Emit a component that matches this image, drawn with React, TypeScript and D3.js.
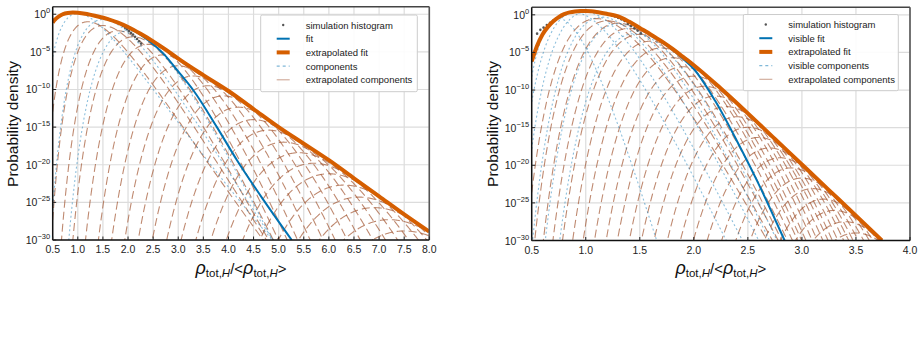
import React, { useEffect, useRef } from "react";
import * as d3 from "d3";

const FONT = "'Liberation Sans', Arial, Helvetica, sans-serif";

// ---- left panel ----
const leftXTicks = [0.5, 1.0, 1.5, 2.0, 2.5, 3.0, 3.5, 4.0, 4.5, 5.0, 5.5, 6.0, 6.5, 7.0, 7.5, 8.0];
const yExponents = [0, -5, -10, -15, -20, -25, -30];

// extrapolated fit (x, log10 density)
const leftFitX = [0.5, 0.55, 0.6, 0.7, 0.8, 0.9, 1.0, 1.2, 1.4, 1.6, 1.8, 2.0, 2.25, 2.5, 2.75, 3.0, 3.5, 4.0, 4.5, 5.0, 5.5, 6.0, 6.5, 7.0, 7.5, 8.0];
const leftFitLog = [-1.1, -0.7, -0.4, 0.0, 0.17, 0.22, 0.2, 0.0, -0.3, -0.65, -1.12, -1.7, -2.6, -3.6, -4.7, -5.9, -8.1, -10.2, -12.6, -15.0, -17.2, -19.4, -21.8, -24.2, -26.6, -28.9];
// fit of the visible part
const leftVisX = [0.5, 0.55, 0.6, 0.7, 0.8, 0.9, 1.0, 1.2, 1.4, 1.6, 1.8, 2.0, 2.2, 2.4, 2.7, 3.0, 3.3, 3.77, 4.17, 4.7, 5.26];
const leftVisLog = [-1.12, -0.72, -0.42, -0.02, 0.15, 0.2, 0.18, -0.02, -0.32, -0.67, -1.15, -1.75, -2.5, -3.45, -5.2, -7.6, -10.1, -15.0, -19.4, -24.7, -30.0];
// histogram
const leftHistX = [0.52, 0.56, 0.6, 0.64, 0.68, 0.72, 0.76, 0.8, 0.84, 0.88, 0.92, 0.96, 1.0, 1.05, 1.1, 1.15, 1.2, 1.25, 1.3, 1.35, 1.4, 1.45, 1.5, 1.55, 1.6, 1.65, 1.7, 1.75, 1.8, 1.85, 1.9, 1.94, 1.98, 2.02, 2.06, 2.1, 2.14, 2.18, 2.22, 2.26];
const leftHistLog = [-0.95, -0.65, -0.4, -0.22, -0.07, 0.04, 0.11, 0.17, 0.2, 0.22, 0.22, 0.21, 0.2, 0.16, 0.11, 0.06, 0.0, -0.07, -0.14, -0.22, -0.3, -0.38, -0.47, -0.56, -0.65, -0.76, -0.87, -0.98, -1.12, -1.3, -1.55, -1.8, -2.0, -2.25, -2.5, -2.7, -3.0, -3.3, -3.6, -3.9];
// components: peak position, log10 peak height, sharpness (log10 drop per (ln x)^2)
const leftExtPeak = [1.2, 1.5, 1.8, 2.1, 2.4, 2.7, 3.0, 3.3, 3.6, 3.9, 4.2, 4.5, 4.8, 5.1, 5.4, 5.7, 6.0, 6.3, 6.6, 6.9, 7.2, 7.5];
const leftExtHeight = [-1.0, -1.5, -2.2, -3.0, -4.0, -5.4, -6.85, -8.2, -9.5, -10.85, -12.35, -14.0, -15.4, -17.0, -18.4, -19.8, -21.2, -22.7, -24.3, -25.7, -27.3, -28.8];
const leftExtSharp = [15.6, 21.4, 28.9, 37.7, 48.4, 58.3, 68, 76.5, 85, 94, 102, 107, 113, 116, 120, 125, 130, 135, 140, 145, 150, 155];
const leftVisPeak = [1.0, 1.5, 2.0];
const leftVisHeight = [0.1, -0.7, -2.2];
const leftVisSharp = [12, 21, 35];
const leftLegend = ["simulation histogram", "fit", "extrapolated fit", "components", "extrapolated components"];

// ---- right panel ----
const rightXTicks = [0.5, 1.0, 1.5, 2.0, 2.5, 3.0, 3.5, 4.0];
const rightFitX = [0.5, 0.55, 0.6, 0.65, 0.7, 0.75, 0.8, 0.85, 0.9, 0.95, 1.0, 1.05, 1.1, 1.2, 1.3, 1.4, 1.5, 1.6, 1.7, 1.8, 1.9, 2.0, 2.25, 2.5, 2.75, 3.0, 3.25, 3.5, 3.74];
const rightFitLog = [-6.2, -4.1, -2.6, -1.6, -0.85, -0.3, 0.1, 0.32, 0.45, 0.5, 0.5, 0.46, 0.38, 0.12, -0.2, -0.9, -1.75, -2.6, -3.5, -4.5, -5.6, -6.7, -9.8, -13.1, -16.5, -19.9, -23.3, -26.7, -30.0];
const rightVisX = [0.5, 0.55, 0.6, 0.65, 0.7, 0.75, 0.8, 0.85, 0.9, 0.95, 1.0, 1.05, 1.1, 1.2, 1.3, 1.4, 1.5, 1.6, 1.7, 1.8, 1.9, 2.0, 2.2, 2.4, 2.6, 2.84];
const rightVisLog = [-6.25, -4.15, -2.65, -1.65, -0.9, -0.33, 0.08, 0.3, 0.43, 0.48, 0.48, 0.44, 0.36, 0.1, -0.22, -0.92, -1.78, -2.65, -3.56, -4.6, -5.85, -7.2, -11.5, -16.8, -22.5, -30.0];
const rightHistX = [0.55, 0.58, 0.61, 0.64, 0.67, 0.7, 0.73, 0.76, 0.79, 0.82, 0.85, 0.88, 0.91, 0.94, 0.97, 1.0, 1.03, 1.06, 1.09, 1.12, 1.15, 1.18, 1.21, 1.24, 1.27, 1.3, 1.33, 1.36, 1.39, 1.42, 1.45, 1.48, 1.51];
const rightHistLog = [-2.5, -2.0, -1.7, -1.35, -1.05, -0.75, -0.5, -0.25, -0.05, 0.12, 0.27, 0.37, 0.44, 0.48, 0.5, 0.5, 0.48, 0.44, 0.4, 0.34, 0.26, 0.16, 0.05, -0.08, -0.23, -0.4, -0.6, -0.82, -1.2, -1.5, -1.8, -2.1, -2.45];
const rightExtPeak = [1.1, 1.2, 1.3, 1.4, 1.5, 1.6, 1.7, 1.8, 1.9, 2.0, 2.1, 2.2, 2.3, 2.4, 2.5, 2.6, 2.7, 2.8, 2.9, 3.0, 3.1, 3.2, 3.3, 3.4, 3.5];
const rightExtHeight = [-0.5, -0.8, -1.1, -1.8, -2.6, -3.5, -4.4, -5.7, -6.9, -8.15, -9.5, -10.8, -12.2, -13.55, -14.95, -16.3, -17.7, -19.0, -20.35, -21.7, -23.1, -24.5, -26.0, -27.5, -29.0];
const rightExtSharp = [37.2, 43.3, 50, 57.8, 65.3, 73.8, 83.1, 93.4, 105, 114.6, 126, 138, 151, 168, 182, 196, 213, 237, 256, 273, 283, 307, 300, 300, 300];
const rightVisPeak = [0.75, 0.9, 1.0, 1.15, 1.3, 1.45];
const rightVisHeight = [-0.5, 0.3, 0.35, -0.3, -1.2, -2.5];
const rightVisSharp = [47, 34.4, 37.8, 44.6, 53.9, 65.7];
const rightLegend = ["simulation histogram", "visible fit", "extrapolated fit", "visible components", "extrapolated components"];

const ORANGE = "#d55e00";
const BLUE = "#0072b2";
const BROWN = "#a0522d";

function drawPanel(svg: any, p: any) {
  const x = d3.scaleLinear().domain([0.5, p.xMax]).range([p.left, p.right]);
  const y = d3.scaleLog().domain([1e-30, 10]).range([p.bottom, p.top]);
  const g = svg.append("g");
  const clipId = p.id + "-clip";
  g.append("clipPath").attr("id", clipId).append("rect")
    .attr("x", p.left).attr("y", p.top)
    .attr("width", p.right - p.left).attr("height", p.bottom - p.top);

  // grid
  g.selectAll(".gx").data(p.xTicks).enter().append("line")
    .attr("x1", (d: number) => x(d)).attr("x2", (d: number) => x(d))
    .attr("y1", p.top).attr("y2", p.bottom)
    .attr("stroke", "#dcdcdc").attr("stroke-width", 1.2);
  g.selectAll(".gy").data(yExponents).enter().append("line")
    .attr("x1", p.left).attr("x2", p.right)
    .attr("y1", (d: number) => y(Math.pow(10, d))).attr("y2", (d: number) => y(Math.pow(10, d)))
    .attr("stroke", "#dcdcdc").attr("stroke-width", 1.2);

  const plot = g.append("g").attr("clip-path", `url(#${clipId})`);
  const xs = d3.range(0.5, p.xMax + 1e-9, (p.xMax - 0.5) / 700);
  const compLine = (xp: number, h: number, k: number) =>
    d3.line<number>()
      .x((v) => x(v))
      .y((v) => y(Math.pow(10, Math.max(h - k * Math.pow(Math.log(v / xp), 2), -31))))(xs);

  p.extPeak.forEach((xp: number, i: number) => {
    plot.append("path").attr("d", compLine(xp, p.extHeight[i], p.extSharp[i]))
      .attr("fill", "none").attr("stroke", BROWN).attr("stroke-opacity", 0.68)
      .attr("stroke-width", 1.1).attr("stroke-dasharray", "8 4");
  });
  p.visPeak.forEach((xp: number, i: number) => {
    plot.append("path").attr("d", compLine(xp, p.visHeight[i], p.visSharp[i]))
      .attr("fill", "none").attr("stroke", BLUE).attr("stroke-opacity", 0.45)
      .attr("stroke-width", 1.1).attr("stroke-dasharray", "2 2.5");
  });

  plot.selectAll(".dot").data(p.histX).enter().append("circle")
    .attr("cx", (d: number) => x(d))
    .attr("cy", (d: number, i: number) => y(Math.pow(10, p.histLog[i])))
    .attr("r", 1.3).attr("fill", "#555");

  const fitLine = (xv: number[], lv: number[]) =>
    d3.line<number>().curve(d3.curveMonotoneX)
      .x((d) => x(d)).y((d, i) => y(Math.pow(10, lv[i])))(xv);
  plot.append("path").attr("d", fitLine(p.visX, p.visLog))
    .attr("fill", "none").attr("stroke", BLUE).attr("stroke-width", 2);
  plot.append("path").attr("d", fitLine(p.fitX, p.fitLog))
    .attr("fill", "none").attr("stroke", ORANGE).attr("stroke-width", 4);

  // spines
  g.append("line").attr("x1", p.left).attr("x2", p.right).attr("y1", p.top).attr("y2", p.top)
    .attr("stroke", "#444").attr("stroke-width", 1.4);
  g.append("line").attr("x1", p.right).attr("x2", p.right).attr("y1", p.top).attr("y2", p.bottom)
    .attr("stroke", "#555").attr("stroke-width", 1.6);
  g.append("line").attr("x1", p.left).attr("x2", p.right).attr("y1", p.bottom).attr("y2", p.bottom)
    .attr("stroke", "#111").attr("stroke-width", 1.5);
  g.append("line").attr("x1", p.left).attr("x2", p.left).attr("y1", p.top).attr("y2", p.bottom)
    .attr("stroke", "#111").attr("stroke-width", 1.5);

  // ticks + labels
  g.selectAll(".tx").data(p.xTicks).enter().append("line")
    .attr("x1", (d: number) => x(d)).attr("x2", (d: number) => x(d))
    .attr("y1", p.bottom).attr("y2", p.bottom - 3.5)
    .attr("stroke", "#222").attr("stroke-width", 1);
  g.selectAll(".lx").data(p.xTicks).enter().append("text")
    .attr("x", (d: number) => x(d)).attr("y", p.bottom + 13)
    .attr("text-anchor", "middle").attr("font-size", 10.5).attr("fill", "#222")
    .attr("font-family", FONT).text((d: number) => d3.format(".1f")(d));
  g.selectAll(".ty").data(yExponents).enter().append("line")
    .attr("x1", p.left).attr("x2", p.left + 3.5)
    .attr("y1", (d: number) => y(Math.pow(10, d))).attr("y2", (d: number) => y(Math.pow(10, d)))
    .attr("stroke", "#222").attr("stroke-width", 1);
  yExponents.forEach((e) => {
    const t = g.append("text").attr("x", p.left - 2.5).attr("y", y(Math.pow(10, e)) + 4)
      .attr("text-anchor", "end").attr("font-size", 10.5).attr("fill", "#222")
      .attr("font-family", FONT);
    t.append("tspan").text("10");
    t.append("tspan").attr("dy", -5).attr("font-size", 7.5)
      .text(e === 0 ? "0" : "\u2212" + Math.abs(e));
  });

  // axis titles
  g.append("text")
    .attr("transform", `translate(${p.yLabelX},124) rotate(-90)`)
    .attr("text-anchor", "middle").attr("dominant-baseline", "central")
    .attr("font-size", 15.5).attr("fill", "#111").attr("font-family", FONT)
    .text("Probability density");
  const xl = g.append("text").attr("x", (p.left + p.right) / 2).attr("y", 274)
    .attr("text-anchor", "middle").attr("font-size", 15).attr("fill", "#111")
    .attr("font-family", FONT);
  const rho = () => {
    xl.append("tspan").attr("font-style", "italic").attr("font-size", 18).text("\u03c1");
    xl.append("tspan").attr("font-size", 11.5).attr("dy", 3).text("tot,");
    xl.append("tspan").attr("font-size", 11.5).attr("font-style", "italic").text("H");
  };
  rho();
  xl.append("tspan").attr("dy", -3).text("/<");
  rho();
  xl.append("tspan").attr("dy", -3).text(">");

  // legend
  const L = p.legend;
  g.append("rect").attr("x", L.x).attr("y", L.y).attr("width", L.w).attr("height", L.h)
    .attr("fill", "white").attr("fill-opacity", 0.9).attr("stroke", "#cccccc").attr("stroke-width", 1).attr("rx", 1.5);
  const sx0 = L.x + 16, sx1 = L.x + 29;
  L.labels.forEach((lab: string, i: number) => {
    const ly = L.y + 10 + i * 13.7;
    if (i === 0) {
      g.append("circle").attr("cx", (sx0 + sx1) / 2).attr("cy", ly).attr("r", 1.2).attr("fill", "#555");
    } else {
      const seg = g.append("line").attr("x1", sx0).attr("x2", sx1).attr("y1", ly).attr("y2", ly).attr("fill", "none");
      if (i === 1) seg.attr("stroke", BLUE).attr("stroke-width", 2);
      if (i === 2) seg.attr("stroke", ORANGE).attr("stroke-width", 4);
      if (i === 3) seg.attr("stroke", BLUE).attr("stroke-opacity", 0.5).attr("stroke-width", 1.1).attr("stroke-dasharray", "3 3");
      if (i === 4) seg.attr("stroke", BROWN).attr("stroke-opacity", 0.5).attr("stroke-width", 1.1);
    }
    g.append("text").attr("x", L.x + 45).attr("y", ly).attr("dominant-baseline", "central")
      .attr("font-size", 9.5).attr("fill", "#222").attr("font-family", FONT).text(lab);
  });
}

export default function App() {
  const ref = useRef<SVGSVGElement | null>(null);
  useEffect(() => {
    const svg = d3.select(ref.current);
    svg.selectAll("*").remove();
    drawPanel(svg, {
      id: "left", left: 52.7, right: 429.3, top: 6.7, bottom: 240, xMax: 8.0,
      xTicks: leftXTicks, fitX: leftFitX, fitLog: leftFitLog, visX: leftVisX, visLog: leftVisLog,
      histX: leftHistX, histLog: leftHistLog,
      extPeak: leftExtPeak, extHeight: leftExtHeight, extSharp: leftExtSharp,
      visPeak: leftVisPeak, visHeight: leftVisHeight, visSharp: leftVisSharp,
      yLabelX: 12.5,
      legend: { x: 260.7, y: 15, w: 156.6, h: 76.7, labels: leftLegend },
    });
    drawPanel(svg, {
      id: "right", left: 531.7, right: 910, top: 7.3, bottom: 240.5, xMax: 4.0,
      xTicks: rightXTicks, fitX: rightFitX, fitLog: rightFitLog, visX: rightVisX, visLog: rightVisLog,
      histX: rightHistX, histLog: rightHistLog,
      extPeak: rightExtPeak, extHeight: rightExtHeight, extSharp: rightExtSharp,
      visPeak: rightVisPeak, visHeight: rightVisHeight, visSharp: rightVisSharp,
      yLabelX: 492,
      legend: { x: 743.3, y: 14.5, w: 155, h: 76.2, labels: rightLegend },
    });
  }, []);
  return (
    <svg ref={ref} width={923} height={346}
      style={{ position: "absolute", left: 0, top: 0, background: "white" }} />
  );
}
